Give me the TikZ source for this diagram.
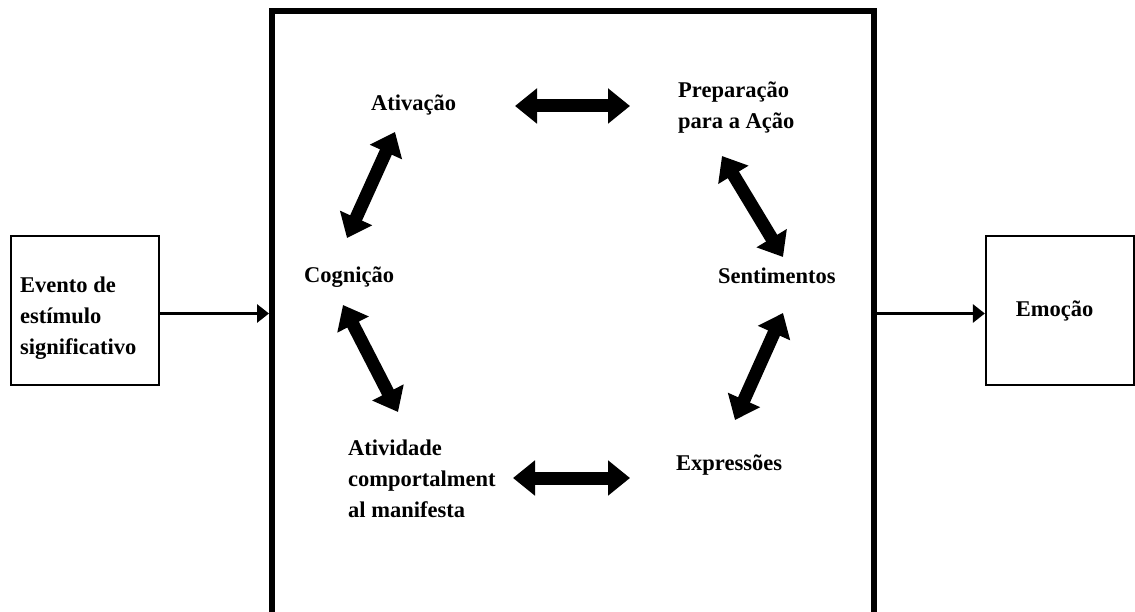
\documentclass[tikz,border=0pt]{standalone}
\usepackage{fontspec}
\setmainfont{Liberation Serif}
\usetikzlibrary{arrows.meta}
\begin{document}
\begin{tikzpicture}[x=1pt,y=-1pt,
  lblfont/.style={font=\fontsize{22.5}{31}\selectfont\bfseries},
  lbl/.style={lblfont, inner sep=0pt, anchor=base west},
  thinbox/.style={draw, line width=2.3pt, inner sep=0pt, minimum width=148pt, minimum height=149pt},
  flow/.style={line width=3.5pt, -{Triangle[length=12pt,width=18pt]}},
  bidir/.style={line width=13pt, {Triangle[length=22pt,width=34pt]}-{Triangle[length=22pt,width=34pt]}},
]
\useasboundingbox (0,0) rectangle (1135,612);

% frames
\node[draw, line width=6pt, inner sep=0pt, minimum width=602pt, minimum height=603pt] (main) at (573,313) {};
\node[thinbox] (evt) at (85,310.5) {};
\node[thinbox, lblfont] (emo) at (1060,310.5) {\hspace*{-11pt}Emoção};

% labels
\node[lbl] (evtxt) at (20,293) {\begin{tabular}[t]{@{}l@{}}Evento de\\estímulo\\significativo\end{tabular}};
\node[lbl] (ativ) at (371,111) {Ativação};
\node[lbl] (prep) at (678,98) {\begin{tabular}[t]{@{}l@{}}Preparação\\para a Ação\end{tabular}};
\node[lbl] (cogn) at (304,283) {Cognição};
\node[lbl] (sent) at (718,284) {Sentimentos};
\node[lbl] (comp) at (348,455) {\begin{tabular}[t]{@{}l@{}}Atividade\\comportalment\\al manifesta\end{tabular}};
\node[lbl] (expr) at (676,470) {Expressões};

% thin flow arrows
\draw[flow] ([yshift=-3pt]evt.east) -- ([yshift=-3pt]evt.east -| main.west);
\draw[flow] ([yshift=-3pt]main.east |- evt.east) -- ([yshift=-3pt]emo.west);

% block double arrows
\coordinate (ta) at (515,106);  \coordinate (tb) at (630,106);
\coordinate (ba) at (513,478);  \coordinate (bb) at (630,478);
\coordinate (lua) at (395,132); \coordinate (lub) at (347,238);
\coordinate (lla) at (343,305); \coordinate (llb) at (398,412);
\coordinate (rua) at (722,156); \coordinate (rub) at (783,257);
\coordinate (rla) at (783,313); \coordinate (rlb) at (735,420);

\draw[bidir] (ta) -- (tb);
\draw[bidir] (ba) -- (bb);
\draw[bidir] (lua) -- (lub);
\draw[bidir] (lla) -- (llb);
\draw[bidir] (rua) -- (rub);
\draw[bidir] (rla) -- (rlb);
\end{tikzpicture}
\end{document}
